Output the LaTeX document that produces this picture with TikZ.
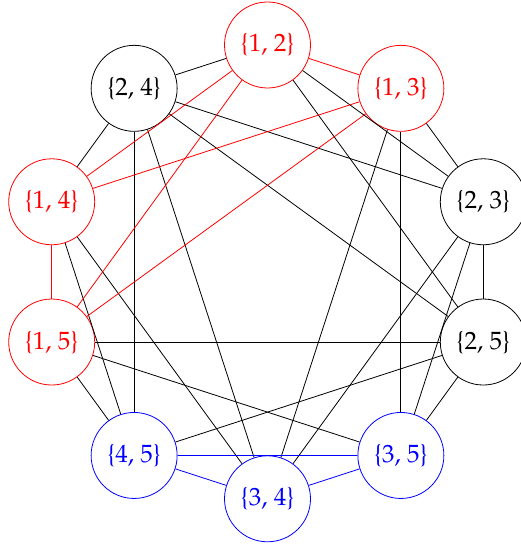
\documentclass[tikz,border=0pt]{standalone}
\usepackage[T1]{fontenc}
\usepackage{mathpazo}
\usetikzlibrary{calc}
\begin{document}
\begin{tikzpicture}[x=1pt,y=1pt,
  vtx/.style={circle, draw, minimum size=86pt, inner sep=0pt, line width=0.8pt, font=\fontsize{25}{30}\selectfont},
  redv/.style={vtx, draw=red, text=red},
  bluev/.style={vtx, draw=blue, text=blue},
  blackv/.style={vtx, draw=black, text=black},
  lnk/.style={line width=0.8pt, draw=black},
  redlnk/.style={line width=0.8pt, draw=red},
  bluelnk/.style={line width=0.8pt, draw=blue}]
\useasboundingbox (0,0) rectangle (520,544);
\coordinate (O) at (267.5,272.1);
\node[redv]   (v12) at ($(O)+(90:226.9)$)   {\{1, 2\}};
\node[redv]   (v13) at ($(O)+(54:226.9)$)   {\{1, 3\}};
\node[blackv] (v23) at ($(O)+(18:226.9)$)   {\{2, 3\}};
\node[blackv] (v25) at ($(O)+(-18:226.9)$)  {\{2, 5\}};
\node[bluev]  (v35) at ($(O)+(-54:226.9)$)  {\{3, 5\}};
\node[bluev]  (v34) at ($(O)+(-90:226.9)$)  {\{3, 4\}};
\node[bluev]  (v45) at ($(O)+(-126:226.9)$) {\{4, 5\}};
\node[redv]   (v15) at ($(O)+(198:226.9)$)  {\{1, 5\}};
\node[redv]   (v14) at ($(O)+(162:226.9)$)  {\{1, 4\}};
\node[blackv] (v24) at ($(O)+(126:226.9)$)  {\{2, 4\}};
% black edges
\foreach \a/\b in {v12/v23, v12/v24, v12/v25, v23/v24, v23/v25, v24/v25,
                   v13/v23, v13/v34, v13/v35,
                   v14/v24, v14/v34, v14/v45,
                   v15/v25, v15/v35, v15/v45,
                   v23/v34, v23/v35,
                   v24/v34, v24/v45,
                   v25/v35, v25/v45}
  \path[lnk] (\a) -- (\b);
% red edges (share 1)
\foreach \a/\b in {v12/v13, v12/v14, v12/v15, v13/v14, v13/v15, v14/v15}
  \path[redlnk] (\a) -- (\b);
% blue edges
\path[bluelnk] (v34) -- (v35);
\path[bluelnk] (v34) -- (v45);
\path[bluelnk] (v45) -- (v35);
\end{tikzpicture}
\end{document}
